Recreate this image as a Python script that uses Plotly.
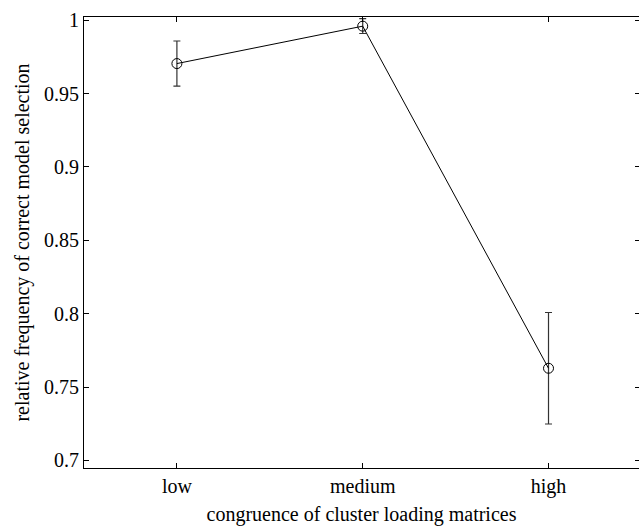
import plotly.graph_objects as go

categories = ["low", "medium", "high"]
values = [0.9705, 0.9960, 0.7628]
err_plus = [0.0154, 0.0052, 0.0380]
err_minus = [0.0154, 0.0050, 0.0380]
ytick_vals = [0.7, 0.75, 0.8, 0.85, 0.9, 0.95, 1.0]
ytick_text = ["0.7", "0.75", "0.8", "0.85", "0.9", "0.95", "1"]

xpos = list(range(1, len(categories) + 1))
font = dict(family="Liberation Serif, Times New Roman, serif", size=20, color="black")

fig = go.Figure()
fig.add_trace(go.Scatter(
    x=xpos, y=values, mode="lines+markers",
    line=dict(color="black", width=1),
    marker=dict(symbol="circle-open", size=10, color="black", line=dict(width=1, color="black")),
    error_y=dict(type="data", symmetric=False, array=err_plus, arrayminus=err_minus,
                 color="#333333", thickness=1.2, width=3.5),
    showlegend=False,
))
# invisible trace for right-side ticks
fig.add_trace(go.Scatter(x=xpos, y=values, yaxis="y2", mode="markers",
                         marker=dict(opacity=0), showlegend=False, hoverinfo="skip"))

yr = [0.6948, 1.00225]
fig.update_layout(
    width=639, height=528,
    margin=dict(l=84, r=0, t=17, b=60),
    paper_bgcolor="white", plot_bgcolor="white",
    font=font,
    xaxis=dict(
        range=[0.5, 3.487], tickvals=xpos, ticktext=categories,
        ticks="inside", ticklen=5, tickcolor="black", tickwidth=1,
        showline=True, linecolor="black", linewidth=1, mirror="ticks",
        showgrid=False, zeroline=False, tickfont=font,
        title=dict(text="congruence of cluster loading matrices", font=font, standoff=9),
    ),
    yaxis=dict(
        range=yr, tickvals=ytick_vals, ticktext=ytick_text,
        ticks="inside", ticklen=5, tickcolor="black", tickwidth=1,
        showline=True, linecolor="black", linewidth=1, mirror=False,
        showgrid=False, zeroline=False, tickfont=font,
        title=dict(text="relative frequency of correct model selection", font=font, standoff=9),
    ),
    yaxis2=dict(
        range=yr, tickvals=ytick_vals, overlaying="y", side="right",
        ticks="inside", ticklen=4, tickcolor="black", tickwidth=1,
        showticklabels=False, showline=False, showgrid=False, zeroline=False,
    ),
)
fig.write_html("out.html")
